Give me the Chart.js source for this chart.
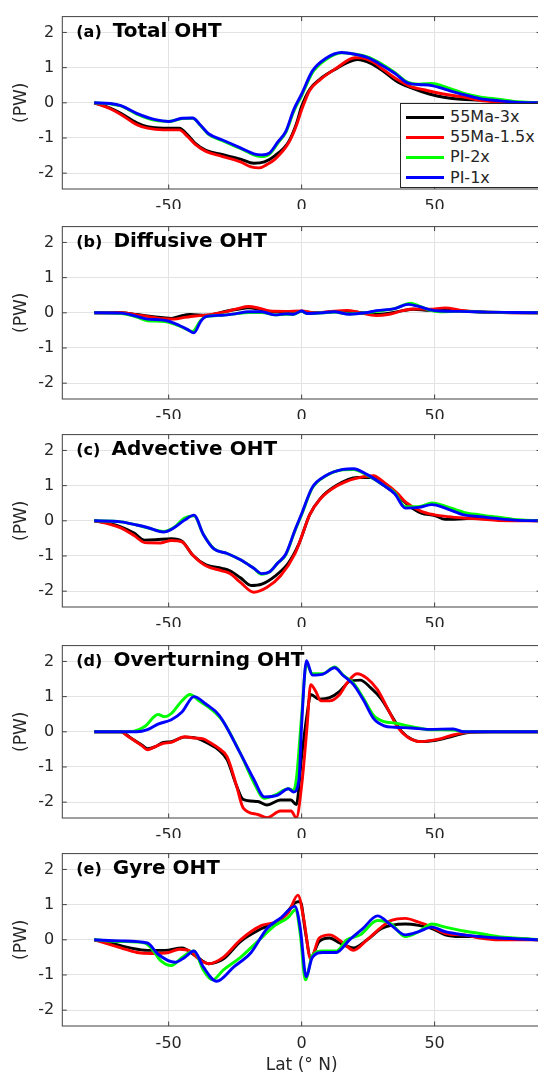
<!DOCTYPE html>
<html>
<head>
<meta charset="utf-8">
<title>Ocean heat transport</title>
<script src="https://cdn.jsdelivr.net/npm/chart.js@4.4.1/dist/chart.umd.min.js"></script>
<style>
  html, body { margin: 0; padding: 0; background: #fff; overflow: hidden; }
  #page { position: relative; width: 538px; height: 1077px; overflow: hidden; font-family: "DejaVu Sans", sans-serif; }
  #page canvas { position: absolute; left: 0; }
  #legend { position: absolute; left: 400px; top: 103px; width: 150px; height: 83px; border: 1px solid #262626; background: #fff; z-index: 2; }
  #legend .item { position: absolute; left: 0; width: 150px; height: 20px; }
  #legend .line { position: absolute; left: 5px; top: 8.5px; width: 38px; height: 3px; }
  #legend .txt { position: absolute; left: 49px; top: 0; font-size: 16px; line-height: 20px; color: #262626; white-space: nowrap; }
</style>
</head>
<body>
<div id="page">
  <div id="legend"></div>
</div>
<script>
// series / ticks
const seriesNames = ['55Ma-3x', '55Ma-1.5x', 'PI-2x', 'PI-1x'];
const seriesColors = ['#000000', '#ff0000', '#00ff00', '#0000ff'];
const xTicks = [-50, 0, 50];
const yTicks = [-2, -1, 0, 1, 2];
const panelTitles = [['(a)', 'Total OHT'], ['(b)', 'Diffusive OHT'], ['(c)', 'Advective OHT'], ['(d)', 'Overturning OHT'], ['(e)', 'Gyre OHT']];

// (a) total OHT, [lat, PW]
const totalK = [[-78,0],[-72,-0.15],[-68,-0.3],[-62,-0.57],[-58,-0.68],[-52,-0.72],[-46,-0.72],[-43,-0.9],[-40,-1.15],[-36,-1.35],[-30,-1.47],[-23,-1.6],[-18,-1.72],[-14,-1.68],[-10,-1.5],[-5,-1.12],[-2,-0.6],[0,-0.1],[3,0.38],[7,0.68],[13,0.97],[18,1.17],[21,1.23],[26,1.12],[31,0.88],[36,0.6],[41,0.43],[48,0.25],[54,0.15],[60,0.1],[67,0.08],[74,0.04],[82,0.01],[90,0]];
const totalR = [[-78,0],[-72,-0.17],[-68,-0.33],[-62,-0.62],[-58,-0.72],[-52,-0.77],[-46,-0.77],[-43,-0.95],[-40,-1.18],[-36,-1.38],[-30,-1.52],[-23,-1.68],[-19,-1.82],[-16,-1.85],[-13,-1.75],[-10,-1.6],[-5,-1.15],[-2,-0.65],[0,-0.2],[3,0.35],[7,0.66],[13,0.98],[20,1.28],[22,1.28],[27,1.15],[31,0.93],[36,0.66],[41,0.46],[46,0.37],[50,0.3],[55,0.23],[62,0.15],[67,0.07],[74,0.02],[80,0],[90,0]];
const totalG = [[-78,0],[-72,-0.03],[-68,-0.09],[-62,-0.32],[-55,-0.5],[-50,-0.53],[-45,-0.45],[-41,-0.44],[-38,-0.65],[-35,-0.9],[-30,-1.07],[-23,-1.3],[-18,-1.48],[-15,-1.53],[-12,-1.45],[-9,-1.15],[-6,-0.85],[-3,-0.25],[0,0.2],[4,0.85],[9,1.22],[15,1.42],[20,1.38],[25,1.3],[29,1.15],[35,0.86],[40,0.58],[44,0.53],[49,0.55],[54,0.45],[61,0.27],[67,0.17],[74,0.1],[80,0.04],[90,0]];
const totalB = [[-78,0],[-72,-0.02],[-68,-0.08],[-62,-0.3],[-55,-0.48],[-50,-0.53],[-45,-0.44],[-41,-0.43],[-38,-0.64],[-35,-0.88],[-30,-1.05],[-23,-1.28],[-18,-1.45],[-15,-1.48],[-12,-1.42],[-9,-1.12],[-6,-0.82],[-3,-0.2],[0,0.25],[4,0.9],[9,1.26],[15,1.43],[20,1.38],[25,1.28],[29,1.12],[35,0.84],[40,0.56],[44,0.52],[49,0.49],[54,0.38],[61,0.23],[67,0.12],[74,0.06],[80,0.02],[90,0]];

// (b) diffusive OHT
const diffK = [[-78,0],[-68,0],[-62,-0.05],[-58,-0.09],[-52,-0.14],[-49,-0.16],[-45,-0.08],[-42,-0.05],[-36,-0.07],[-28,0.05],[-24,0.1],[-20,0.14],[-16,0.1],[-12,0.04],[-6,0.03],[0,0.04],[5,0],[10,0.02],[17,0.04],[22,0.01],[28,-0.05],[33,-0.01],[38,0.06],[42,0.1],[48,0.07],[54,0.1],[60,0.05],[67,0.02],[75,0.01],[90,0]];
const diffR = [[-78,0],[-68,0],[-62,-0.06],[-58,-0.1],[-52,-0.17],[-48,-0.18],[-44,-0.13],[-40,-0.09],[-36,-0.07],[-28,0.04],[-24,0.12],[-20,0.18],[-16,0.13],[-12,0.05],[-6,0.04],[0,0.05],[5,0],[10,0.03],[17,0.07],[22,0],[28,-0.08],[33,-0.04],[38,0.06],[42,0.11],[48,0.1],[54,0.14],[60,0.07],[67,0.03],[75,0.01],[90,0]];
const diffG = [[-78,0],[-68,-0.02],[-62,-0.12],[-58,-0.23],[-53,-0.24],[-50,-0.27],[-46,-0.37],[-43,-0.48],[-41,-0.53],[-38,-0.22],[-36,-0.11],[-30,-0.07],[-25,-0.03],[-20,0.01],[-15,0.01],[-10,-0.06],[-6,-0.04],[-3,-0.04],[0,0.04],[2,-0.02],[8,0],[12,0.02],[18,-0.03],[24,0],[28,0.04],[35,0.12],[41,0.27],[44,0.2],[48,0.08],[52,0.03],[60,0.04],[70,0.02],[80,0.01],[90,0]];
const diffB = [[-78,0],[-68,-0.01],[-62,-0.1],[-58,-0.18],[-53,-0.2],[-50,-0.24],[-46,-0.36],[-43,-0.47],[-40.5,-0.57],[-38,-0.25],[-36,-0.11],[-30,-0.07],[-25,-0.03],[-20,0.03],[-15,0.03],[-10,-0.06],[-6,-0.03],[-3,-0.04],[0,0.05],[2,-0.02],[8,0],[12,0.03],[18,-0.04],[24,0],[28,0.06],[35,0.12],[40,0.24],[44,0.18],[48,0.09],[52,0.05],[60,0.04],[70,0.02],[80,0.01],[90,0]];

// (c) advective OHT
const advK = [[-78,0],[-72,-0.08],[-68,-0.17],[-63,-0.35],[-59,-0.55],[-55,-0.54],[-49,-0.51],[-45,-0.58],[-41,-0.97],[-36,-1.25],[-30,-1.35],[-27,-1.42],[-23,-1.62],[-19,-1.84],[-15,-1.8],[-10,-1.57],[-5,-1.2],[-1,-0.65],[3,0.17],[7,0.63],[13,1.0],[21,1.23],[26,1.23],[31,1.0],[36,0.72],[40,0.45],[45,0.22],[50,0.15],[54,0.04],[61,0.06],[67,0.08],[74,0.03],[90,0]];
const advR = [[-78,0],[-72,-0.1],[-68,-0.2],[-63,-0.42],[-59,-0.62],[-53,-0.63],[-49,-0.56],[-45,-0.6],[-41,-0.97],[-36,-1.28],[-30,-1.42],[-27,-1.5],[-23,-1.75],[-18,-2.03],[-13,-1.89],[-8,-1.57],[-2.5,-0.93],[0,-0.45],[3,0.17],[7,0.62],[13,0.98],[20,1.2],[27,1.28],[31,1.09],[36,0.78],[39,0.54],[45,0.27],[50,0.17],[55,0.12],[61,0.08],[67,0.05],[74,0.01],[90,0]];
const advG = [[-78,0],[-68,-0.03],[-62,-0.12],[-58,-0.2],[-52,-0.3],[-48,-0.19],[-44,0.08],[-40.5,0.14],[-37,-0.38],[-33,-0.79],[-28,-0.93],[-23,-1.11],[-18,-1.35],[-15,-1.52],[-12,-1.45],[-9,-1.2],[-6,-0.97],[-2.5,-0.28],[0,0.17],[4,0.93],[9,1.27],[15.5,1.45],[19.5,1.46],[24.5,1.3],[31,1.0],[35,0.8],[39,0.4],[44,0.4],[49,0.51],[54,0.42],[61,0.24],[67,0.17],[74,0.1],[80,0.04],[90,0]];
const advB = [[-78,0],[-68,-0.03],[-62,-0.12],[-58,-0.19],[-52,-0.32],[-48,-0.2],[-44,0.02],[-40.5,0.16],[-37,-0.38],[-33,-0.8],[-28,-0.93],[-23,-1.11],[-18,-1.35],[-15,-1.5],[-12,-1.45],[-9,-1.2],[-6,-0.95],[-2.5,-0.26],[0,0.2],[4,0.95],[9,1.28],[15.5,1.46],[19.5,1.48],[24.5,1.32],[31,1.0],[35,0.77],[39,0.36],[44,0.38],[49,0.46],[54,0.36],[61,0.17],[67,0.12],[74,0.06],[80,0.02],[90,0]];

// (d) overturning OHT
const ovK = [[-78,0],[-68,0],[-64.5,-0.16],[-60,-0.38],[-58,-0.48],[-55,-0.42],[-52,-0.3],[-49,-0.28],[-44,-0.15],[-41,-0.16],[-38,-0.22],[-36,-0.3],[-31,-0.53],[-28,-0.8],[-24.5,-1.53],[-22,-1.92],[-16.5,-1.98],[-13,-2.08],[-8,-1.94],[-4,-1.94],[-2,-2.07],[0,-0.7],[2,0.47],[3.4,1.06],[6.6,0.93],[10.5,0.97],[14.3,1.15],[18,1.43],[22,1.47],[26,1.25],[30,0.93],[33.7,0.47],[37.5,0.02],[41.4,-0.21],[45,-0.28],[50.5,-0.24],[57,-0.12],[62,-0.03],[72,0],[90,0]];
const ovR = [[-78,0],[-68,0],[-65.5,-0.12],[-60,-0.4],[-58,-0.51],[-55,-0.42],[-52,-0.33],[-49,-0.3],[-44,-0.14],[-40,-0.18],[-37,-0.2],[-35,-0.28],[-31,-0.48],[-28,-0.71],[-24.5,-1.53],[-22,-2.16],[-16.5,-2.35],[-13,-2.44],[-8,-2.25],[-4,-2.25],[-2,-2.44],[0,-1.53],[2,0.11],[3.4,1.34],[5.3,1.15],[7.2,0.88],[10.5,0.88],[14.3,1.06],[17,1.38],[20.8,1.65],[24.6,1.52],[28.5,1.2],[32.4,0.65],[36.3,0.11],[40,-0.16],[45,-0.28],[51.5,-0.21],[57,-0.09],[61,-0.03],[70,0],[90,0]];
const ovG = [[-78,0],[-68,0],[-63,0.02],[-59,0.15],[-54,0.49],[-51.5,0.43],[-49,0.52],[-45,0.88],[-42,1.06],[-38.6,0.88],[-33.5,0.61],[-29.5,0.29],[-23,-0.62],[-18,-1.44],[-14,-1.89],[-10,-1.8],[-5,-1.62],[-3,-1.66],[-2,-1.35],[0,0.47],[1.8,1.93],[4,1.65],[8,1.65],[12.4,1.84],[15.6,1.61],[19.5,1.38],[23.4,0.93],[27,0.47],[31,0.29],[35,0.25],[41,0.15],[48,0.06],[57,0.05],[61,0],[90,0]];
const ovB = [[-78,0],[-62,0],[-58,0.06],[-54,0.22],[-49,0.34],[-45,0.56],[-40.5,1.0],[-36,0.79],[-31,0.47],[-23,-0.62],[-18,-1.35],[-14,-1.85],[-9,-1.8],[-5,-1.62],[-3,-1.71],[-1,-1.35],[0,0.2],[1.8,2.02],[4,1.61],[8,1.64],[12.4,1.82],[15.6,1.6],[19.5,1.34],[23.4,0.88],[27,0.38],[31,0.17],[35,0.13],[41,0.11],[48,0.07],[57,0.08],[61,0],[90,0]];

// (e) gyre OHT
const gyK = [[-78,0],[-72,-0.09],[-64.5,-0.23],[-58,-0.3],[-51.5,-0.3],[-45,-0.23],[-40,-0.45],[-35,-0.68],[-29.5,-0.55],[-23,-0.05],[-15,0.32],[-7.6,0.59],[-2.5,1.05],[-0.5,1.09],[1.4,0.23],[3.4,-0.5],[6.6,-0.05],[10.5,0.05],[14.3,-0.09],[19.5,-0.23],[24.6,0],[30,0.32],[33.7,0.41],[39,0.45],[44,0.41],[49,0.32],[54,0.14],[59.5,0.09],[67,0.09],[74,0.05],[90,0]];
const gyR = [[-78,0],[-72,-0.14],[-68,-0.23],[-62,-0.36],[-56.6,-0.39],[-50,-0.36],[-46,-0.27],[-42,-0.32],[-38.6,-0.55],[-35,-0.68],[-29.5,-0.5],[-23,0],[-15,0.41],[-10,0.5],[-5,0.77],[-1.4,1.27],[0.8,0.59],[3.4,-0.55],[6.6,0.05],[10.5,0.14],[15.6,-0.09],[19.5,-0.3],[24.6,0],[30,0.36],[33.7,0.55],[39,0.61],[44,0.5],[49,0.36],[54,0.18],[61,0.14],[67,0.05],[74,0],[90,0]];
const gyG = [[-78,0],[-68,-0.05],[-59,-0.09],[-56.6,-0.23],[-53,-0.59],[-49,-0.73],[-45,-0.5],[-40.5,-0.32],[-37,-0.86],[-33.5,-1.14],[-29.5,-0.86],[-23,-0.5],[-16.6,-0.05],[-10,0.41],[-5,0.64],[-2.2,0.86],[-0.5,0.14],[1.4,-1.14],[4,-0.45],[8,-0.32],[13,-0.32],[17,0],[22,0.14],[28.5,0.55],[33.7,0.45],[39,0.09],[44,0.23],[49,0.45],[54,0.36],[61,0.25],[67,0.18],[74,0.09],[80,0.05],[90,0]];
const gyB = [[-78,0],[-68,-0.03],[-58,-0.09],[-54,-0.41],[-47.6,-0.64],[-44,-0.5],[-40.5,-0.32],[-37,-0.77],[-32,-1.18],[-25.5,-0.77],[-19,-0.36],[-13,0.32],[-7.6,0.64],[-2.5,0.95],[-0.5,0.32],[1.7,-1.05],[4,-0.5],[8,-0.36],[13,-0.36],[18,0],[23,0.32],[28.5,0.68],[33.7,0.41],[39,0.14],[44,0.23],[49,0.36],[54,0.23],[61,0.14],[67,0.09],[74,0.05],[90,0]];

const panels = [
  [totalK, totalR, totalG, totalB],
  [diffK, diffR, diffG, diffB],
  [advK, advR, advG, advB],
  [ovK, ovR, ovG, ovB],
  [gyK, gyR, gyG, gyB]
];

// layout
const panelTops = [9.3, 219.3, 426.7, 637.7, 845.7];
const plotH = 180;
const axisColor = '#404040';
const textColor = '#262626';

Chart.defaults.font.family = '"DejaVu Sans", sans-serif';
Chart.defaults.color = textColor;

// box, inward ticks and panel title
const panelDeco = {
  id: 'panelDeco',
  afterDraw(chart, args, opts) {
    const ctx = chart.ctx, a = chart.chartArea;
    const x = chart.scales.x, y = chart.scales.y;
    ctx.save();
    ctx.strokeStyle = axisColor;
    ctx.lineWidth = 1;
    ctx.strokeRect(a.left, a.top, a.right - a.left, a.bottom - a.top);
    ctx.beginPath();
    xTicks.forEach(v => {
      const px = x.getPixelForValue(v);
      ctx.moveTo(px, a.bottom); ctx.lineTo(px, a.bottom - 4.5);
      ctx.moveTo(px, a.top); ctx.lineTo(px, a.top + 4.5);
    });
    yTicks.forEach(v => {
      const py = y.getPixelForValue(v);
      ctx.moveTo(a.left, py); ctx.lineTo(a.left + 4.5, py);
      ctx.moveTo(a.right, py); ctx.lineTo(a.right - 4.5, py);
    });
    ctx.stroke();

    if (opts.title) {
      ctx.fillStyle = '#000';
      ctx.textBaseline = 'alphabetic';
      const tx = a.left + 14, ty = a.top + 20.7;
      ctx.font = 'bold 16px "DejaVu Sans"';
      ctx.fillText(opts.title[0], tx, ty);
      const w = ctx.measureText(opts.title[0]).width;
      ctx.font = 'bold 20px "DejaVu Sans"';
      ctx.fillText(opts.title[1], tx + w + 11, ty);
    }
    ctx.restore();
  }
};
Chart.register(panelDeco);

const page = document.getElementById('page');

function makePanel(idx) {
  const last = idx === panels.length - 1;
  const h = last ? 240 : 210;
  const cv = document.createElement('canvas');
  cv.width = 542;
  cv.height = h;
  cv.style.width = '542px';
  cv.style.height = h + 'px';
  cv.style.top = (panelTops[idx] - 10) + 'px';
  page.appendChild(cv);

  // blue drawn last (on top)
  const datasets = panels[idx].map((pts, k) => ({
    label: seriesNames[k],
    data: pts.map(p => ({ x: p[0], y: p[1] })),
    borderColor: seriesColors[k],
    borderWidth: 2.9,
    pointRadius: 0,
    fill: false,
    cubicInterpolationMode: 'monotone'
  })).reverse();

  new Chart(cv, {
    type: 'line',
    data: { datasets: datasets },
    options: {
      responsive: false,
      animation: false,
      events: [],
      layout: { padding: { top: 10, right: 1, left: 0, bottom: 0 } },
      plugins: {
        legend: { display: false },
        tooltip: { enabled: false },
        panelDeco: { title: panelTitles[idx] }
      },
      scales: {
        x: {
          type: 'linear',
          min: -90,
          max: 90,
          afterBuildTicks: s => { s.ticks = xTicks.map(v => ({ value: v })); },
          afterFit: s => { s.height = h - 10 - plotH; },
          ticks: { font: { size: 16 }, color: textColor, padding: 8, maxRotation: 0, callback: v => String(v) },
          grid: { color: '#e3e3e3', drawTicks: false },
          border: { display: false },
          title: last
            ? { display: true, text: 'Lat (° N)', font: { size: 17 }, color: textColor, padding: { top: 0, bottom: 0 } }
            : { display: false }
        },
        y: {
          min: -2.45,
          max: 2.45,
          afterBuildTicks: s => { s.ticks = yTicks.map(v => ({ value: v })); },
          afterFit: s => { s.width = 62.3; },
          ticks: { font: { size: 16 }, color: textColor, padding: 8, callback: v => String(v) },
          grid: { color: '#e3e3e3', drawTicks: false },
          border: { display: false },
          title: { display: true, text: '(PW)', font: { size: 17 }, color: textColor, padding: { top: 11, bottom: 0 } }
        }
      }
    }
  });
}

for (let i = 0; i < panels.length; i++) makePanel(i);

// legend of panel (a)
const legend = document.getElementById('legend');
seriesNames.forEach((name, k) => {
  const item = document.createElement('div');
  item.className = 'item';
  item.style.top = (3 + k * 20.2) + 'px';
  const line = document.createElement('span');
  line.className = 'line';
  line.style.background = seriesColors[k];
  const txt = document.createElement('span');
  txt.className = 'txt';
  txt.textContent = name;
  item.appendChild(line);
  item.appendChild(txt);
  legend.appendChild(item);
});
</script>
</body>
</html>
